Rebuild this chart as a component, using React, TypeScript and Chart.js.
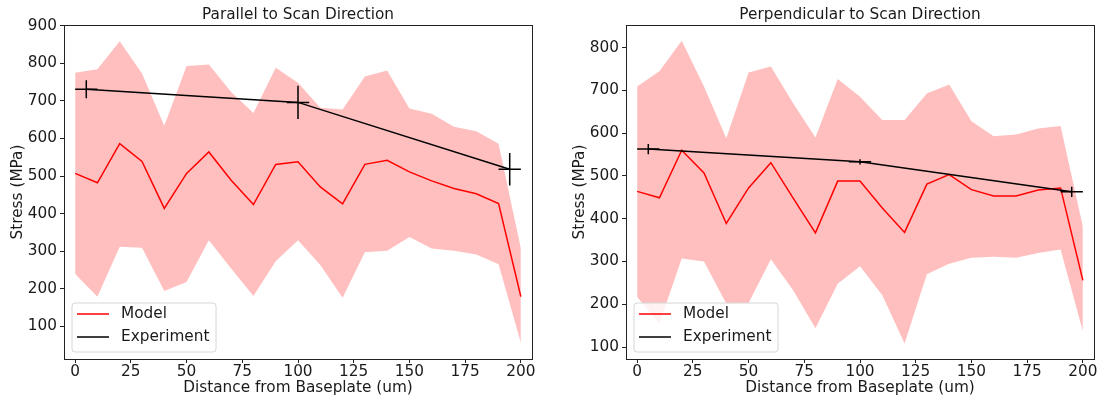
import React, { useEffect, useRef } from "react";
import { Chart, registerables } from "chart.js";

Chart.register(...registerables);

// ---- data ----
const xModel = [0, 10, 20, 30, 40, 50, 60, 70, 80, 90, 100, 110, 120, 130, 140, 150, 160, 170, 180, 190, 200];
const xTicks = [0, 25, 50, 75, 100, 125, 150, 175, 200];

const parModel = [507, 482, 586, 539, 414, 507, 564, 489, 424, 531, 538, 471, 426, 531, 542, 511, 487, 467, 453, 427, 179];
const parUpper = [775, 784, 859, 773, 634, 793, 797, 724, 668, 788, 748, 682, 677, 765, 781, 680, 666, 631, 619, 586, 307];
const parLower = [239, 179, 312, 309, 194, 218, 329, 254, 181, 273, 329, 263, 176, 297, 301, 338, 307, 301, 291, 265, 56];
const parExpX = [5, 100, 195];
const parExpY = [731, 696, 518];
const parExpXErr = [5, 5, 5];
const parExpYErr = [24, 44, 43];
const parYTicks = [100, 200, 300, 400, 500, 600, 700, 800, 900];

const perpModel = [464, 449, 560, 507, 389, 472, 531, 448, 367, 488, 488, 425, 368, 481, 503, 468, 453, 453, 467, 472, 256];
const perpUpper = [709, 745, 816, 709, 588, 742, 756, 670, 590, 727, 685, 631, 631, 693, 714, 628, 593, 597, 611, 617, 382];
const perpLower = [217, 155, 307, 300, 201, 203, 305, 233, 144, 248, 289, 221, 108, 270, 295, 309, 311, 309, 320, 328, 137];
const perpExpX = [5, 100, 195];
const perpExpY = [563, 533, 463];
const perpExpXErr = [5, 5, 5];
const perpExpYErr = [12, 6, 12];
const perpYTicks = [100, 200, 300, 400, 500, 600, 700, 800];

const legendLabels = ["Model", "Experiment"];

const FONT = "DejaVu Sans";
const FS = 15.3;
const TEXT = "#1a1a1a";

type PanelProps = {
  left: number;
  title: string;
  model: number[];
  upper: number[];
  lower: number[];
  expX: number[];
  expY: number[];
  expXErr: number[];
  expYErr: number[];
  yTicks: number[];
  yMin: number;
  yMax: number;
};

function Panel(p: PanelProps) {
  const ref = useRef<HTMLCanvasElement | null>(null);
  useEffect(() => {
    if (!ref.current) return;
    const pts = (ys: number[]) => xModel.map((x, i) => ({ x, y: ys[i] }));
    const decor = {
      id: "decor",
      afterDatasetsDraw(chart: any) {
        const { ctx, chartArea: a, scales } = chart;
        const xs = scales.x, ys = scales.y;
        ctx.save();
        // error bars
        ctx.strokeStyle = "#000";
        ctx.lineWidth = 1.5;
        p.expX.forEach((vx, i) => {
          const vy = p.expY[i];
          const px = xs.getPixelForValue(vx);
          const py = ys.getPixelForValue(vy);
          ctx.beginPath();
          ctx.moveTo(xs.getPixelForValue(vx - p.expXErr[i]), py);
          ctx.lineTo(xs.getPixelForValue(vx + p.expXErr[i]), py);
          ctx.moveTo(px, ys.getPixelForValue(vy - p.expYErr[i]));
          ctx.lineTo(px, ys.getPixelForValue(vy + p.expYErr[i]));
          ctx.stroke();
        });
        // frame
        ctx.strokeStyle = "#222";
        ctx.lineWidth = 1;
        ctx.strokeRect(Math.round(a.left) + 0.5, Math.round(a.top) + 0.5, Math.round(a.right - a.left), Math.round(a.bottom - a.top));
        // legend
        const bx = a.left + 8, by = a.bottom - 56, bw = 144, bh = 49, r = 3;
        ctx.beginPath();
        ctx.moveTo(bx + r, by);
        ctx.lineTo(bx + bw - r, by);
        ctx.quadraticCurveTo(bx + bw, by, bx + bw, by + r);
        ctx.lineTo(bx + bw, by + bh - r);
        ctx.quadraticCurveTo(bx + bw, by + bh, bx + bw - r, by + bh);
        ctx.lineTo(bx + r, by + bh);
        ctx.quadraticCurveTo(bx, by + bh, bx, by + bh - r);
        ctx.lineTo(bx, by + r);
        ctx.quadraticCurveTo(bx, by, bx + r, by);
        ctx.closePath();
        ctx.fillStyle = "rgba(255,255,255,0.8)";
        ctx.fill();
        ctx.strokeStyle = "#d6d6d6";
        ctx.lineWidth = 1;
        ctx.stroke();
        const rows = [a.bottom - 45, a.bottom - 22];
        const cols = ["#ff0000", "#000000"];
        ctx.font = `${FS}px "${FONT}"`;
        ctx.textBaseline = "middle";
        ctx.textAlign = "left";
        legendLabels.forEach((lab, i) => {
          ctx.strokeStyle = cols[i];
          ctx.lineWidth = 1.5;
          ctx.beginPath();
          ctx.moveTo(a.left + 13, rows[i]);
          ctx.lineTo(a.left + 45, rows[i]);
          ctx.stroke();
          ctx.fillStyle = TEXT;
          ctx.fillText(lab, a.left + 57, rows[i]);
        });
        ctx.restore();
      },
    };
    const chart = new Chart(ref.current, {
      type: "line",
      data: {
        datasets: [
          {
            label: "Experiment",
            data: p.expX.map((x, i) => ({ x, y: p.expY[i] })),
            borderColor: "#000",
            borderWidth: 1.5,
            pointRadius: 0,
            fill: false,
            order: 0,
          },
          {
            label: "Model",
            data: pts(p.model),
            borderColor: "#ff0000",
            borderWidth: 1.5,
            pointRadius: 0,
            fill: false,
            order: 1,
          },
          {
            label: "upper",
            data: pts(p.upper),
            borderColor: "rgba(0,0,0,0)",
            borderWidth: 0,
            pointRadius: 0,
            fill: "+1",
            backgroundColor: "rgba(255,0,0,0.25)",
            order: 2,
          },
          {
            label: "lower",
            data: pts(p.lower),
            borderColor: "rgba(0,0,0,0)",
            borderWidth: 0,
            pointRadius: 0,
            fill: false,
            order: 3,
          },
        ],
      } as any,
      options: {
        animation: false,
        responsive: false,
        devicePixelRatio: 1,
        layout: { padding: { left: 0, right: 5, top: 0, bottom: 0 } },
        plugins: {
          legend: { display: false },
          tooltip: { enabled: false },
          title: {
            display: true,
            text: p.title,
            fullSize: false,
            color: TEXT,
            font: { family: FONT, size: FS, weight: "normal" },
            padding: { top: 5.6, bottom: 1.04 },
          },
        },
        scales: {
          x: {
            type: "linear",
            min: -5,
            max: 205,
            afterBuildTicks: (s: any) => {
              s.ticks = xTicks.map((v) => ({ value: v }));
            },
            afterFit: (s: any) => {
              s.height = 43;
            },
            ticks: {
              color: TEXT,
              font: { family: FONT, size: FS },
              padding: 0,
              maxRotation: 0,
              autoSkip: false,
            },
            grid: { display: true, drawOnChartArea: false, tickLength: 4, tickColor: "#222", tickWidth: 1 },
            border: { display: false },
            title: {
              display: true,
              text: "Distance from Baseplate (um)",
              color: TEXT,
              font: { family: FONT, size: FS },
              padding: { top: 0, bottom: 5.2 },
            },
          },
          y: {
            type: "linear",
            min: p.yMin,
            max: p.yMax,
            afterBuildTicks: (s: any) => {
              s.ticks = p.yTicks.map((v) => ({ value: v }));
            },
            afterFit: (s: any) => {
              s.width = 64;
            },
            ticks: {
              color: TEXT,
              font: { family: FONT, size: FS },
              padding: 3,
              autoSkip: false,
            },
            grid: { display: true, drawOnChartArea: false, tickLength: 4, tickColor: "#222", tickWidth: 1 },
            border: { display: false },
            title: {
              display: true,
              text: "Stress (MPa)",
              color: TEXT,
              font: { family: FONT, size: FS },
              padding: { top: 8.7, bottom: 0 },
            },
          },
        },
      } as any,
      plugins: [decor],
    });
    return () => chart.destroy();
  }, []);
  return (
    <div style={{ position: "absolute", left: p.left, top: 0, width: 537, height: 402 }}>
      <canvas ref={ref} width={537} height={402} style={{ display: "block" }} />
    </div>
  );
}

export default function App() {
  return (
    <div style={{ position: "absolute", left: 0, top: 0, width: 1099, height: 402, background: "#fff" }}>
      <Panel
        left={0}
        title="Parallel to Scan Direction"
        model={parModel}
        upper={parUpper}
        lower={parLower}
        expX={parExpX}
        expY={parExpY}
        expXErr={parExpXErr}
        expYErr={parExpYErr}
        yTicks={parYTicks}
        yMin={13}
        yMax={902}
      />
      <Panel
        left={562}
        title="Perpendicular to Scan Direction"
        model={perpModel}
        upper={perpUpper}
        lower={perpLower}
        expX={perpExpX}
        expY={perpExpY}
        expXErr={perpExpXErr}
        expYErr={perpExpYErr}
        yTicks={perpYTicks}
        yMin={72}
        yMax={853}
      />
    </div>
  );
}
